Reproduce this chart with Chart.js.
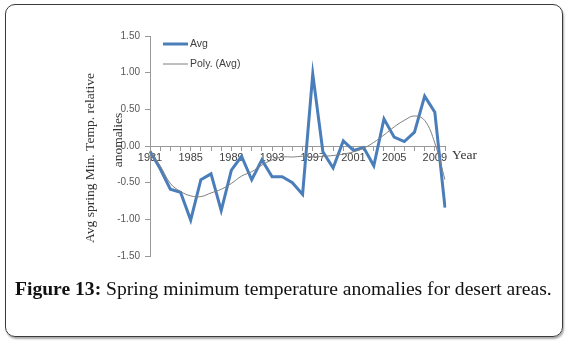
<!DOCTYPE html>
<html>
<head>
<meta charset="utf-8">
<script src="https://cdn.jsdelivr.net/npm/chart.js@4.4.1/dist/chart.umd.min.js"></script>
<style>
    html, body { margin: 0; padding: 0; background: #fff; }
    #wrap { position: relative; width: 570px; height: 343px; }
    #frame {
        position: absolute; left: 5px; top: 4px; width: 556px; height: 331px;
        border: 1.5px solid #3a3a3a; border-radius: 10px;
        box-shadow: 1px 2px 2px rgba(0,0,0,0.35);
    }
    #chart { position: absolute; left: 0; top: 0; }
    #caption {
        position: absolute; left: 15px; top: 278px; white-space: nowrap;
        font-family: 'Liberation Serif', 'DejaVu Serif', serif; font-size: 19.6px; color: #111;
    }
</style>
</head>
<body>
<div id="wrap">
    <div id="frame"></div>
    <canvas id="chart" width="570" height="343"></canvas>
    <div id="caption"><b>Figure 13:</b> Spring minimum temperature anomalies for desert areas.</div>
</div>
<script>
const years = ['1981', '1982', '1983', '1984', '1985', '1986', '1987', '1988', '1989', '1990',
               '1991', '1992', '1993', '1994', '1995', '1996', '1997', '1998', '1999', '2000',
               '2001', '2002', '2003', '2004', '2005', '2006', '2007', '2008', '2009', '2010'];
const avgValues = [-0.07, -0.31, -0.59, -0.63, -1.01, -0.46, -0.38, -0.88, -0.33, -0.14,
                   -0.46, -0.19, -0.42, -0.42, -0.50, -0.66, 0.98, -0.08, -0.30, 0.07,
                   -0.06, -0.02, -0.27, 0.37, 0.12, 0.06, 0.19, 0.68, 0.46, -0.84];
const polyValues = [-0.07, -0.27, -0.51, -0.62, -0.68, -0.69, -0.64, -0.59, -0.51, -0.41,
                    -0.35, -0.26, -0.19, -0.15, -0.15, -0.14, -0.15, -0.14, -0.13, -0.11,
                    -0.08, -0.03, 0.05, 0.15, 0.26, 0.35, 0.41, 0.35, 0.04, -0.46];
const yTicks = [-1.5, -1.0, -0.5, 0, 0.5, 1.0, 1.5];
const yTitle = ['Avg spring Min. Temp. relative', 'anomalies'];

// legend, axis title and "Year" label drawn by hand
const extras = {
    id: 'extras',
    afterDraw(chart) {
        const ctx = chart.ctx;
        const ds = chart.data.datasets;
        ctx.save();
        // legend
        ctx.font = '10.5px "Liberation Sans", sans-serif';
        ctx.fillStyle = '#404040';
        ctx.textBaseline = 'middle';
        [[44, 0], [64, 1]].forEach(function(row) {
            const d = ds[row[1]];
            ctx.strokeStyle = d.borderColor;
            ctx.lineWidth = d.borderWidth;
            ctx.beginPath();
            ctx.moveTo(163, row[0]);
            ctx.lineTo(188, row[0]);
            ctx.stroke();
            ctx.fillText(d.label, 190, row[0]);
        });
        // "Year"
        ctx.font = '13.5px "Liberation Serif", serif';
        ctx.fillStyle = '#333';
        ctx.fillText('Year', 452, 155);
        // y title
        ctx.textAlign = 'center';
        [[90, 158, yTitle[0]], [118, 140, yTitle[1]]].forEach(function(t) {
            ctx.save();
            ctx.translate(t[0], t[1]);
            ctx.rotate(-Math.PI / 2);
            ctx.fillText(t[2], 0, 0);
            ctx.restore();
        });
        ctx.restore();
    }
};

new Chart(document.getElementById('chart').getContext('2d'), {
    type: 'line',
    data: {
        labels: years,
        datasets: [{
            label: 'Avg',
            data: avgValues,
            borderColor: '#4a7ebb',
            borderWidth: 3,
            pointRadius: 0,
            tension: 0,
            order: 1
        }, {
            label: 'Poly. (Avg)',
            data: polyValues,
            borderColor: '#7f7f7f',
            borderWidth: 1,
            pointRadius: 0,
            tension: 0.4,
            order: 0
        }]
    },
    options: {
        responsive: false,
        animation: false,
        layout: { padding: { left: 0, right: 125, top: 36, bottom: 87 } },
        plugins: {
            legend: { display: false },
            tooltip: { enabled: false }
        },
        scales: {
            x: {
                position: { y: 0 },
                offset: false,
                grid: { drawOnChartArea: false, tickLength: 4, color: '#999' },
                border: { color: '#999' },
                ticks: {
                    autoSkip: false,
                    maxRotation: 0,
                    padding: 1,
                    color: '#404040',
                    font: { family: 'Liberation Sans', size: 11 },
                    callback: function(v, i) { return i % 4 === 0 ? years[i] : ''; }
                }
            },
            y: {
                min: -1.5,
                max: 1.5,
                afterFit: function(s) { s.width = 150; },
                afterBuildTicks: function(s) { s.ticks = yTicks.map(function(v) { return { value: v }; }); },
                grid: { drawOnChartArea: false, tickLength: 5, color: '#999' },
                border: { color: '#999' },
                ticks: {
                    padding: 5,
                    color: '#595959',
                    font: { family: 'Liberation Sans', size: 10 },
                    callback: function(v) { return v.toFixed(2); }
                }
            }
        }
    },
    plugins: [extras]
});
</script>
</body>
</html>
